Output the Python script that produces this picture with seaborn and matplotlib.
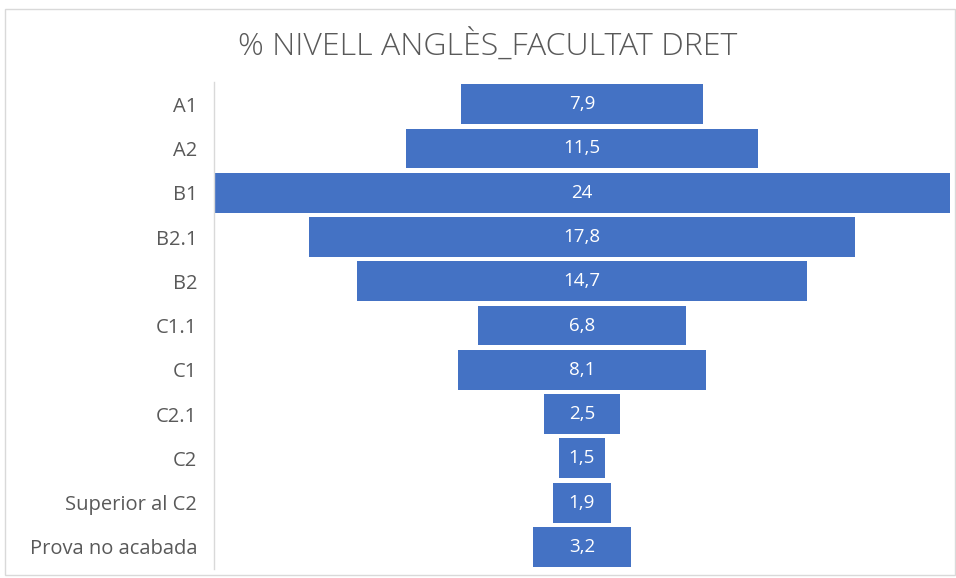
import pandas as pd
import matplotlib.pyplot as plt
import seaborn as sns
from matplotlib.patches import Rectangle

# Dades: % nivell d'anglès
nivells = ['A1', 'A2', 'B1', 'B2.1', 'B2', 'C1.1', 'C1', 'C2.1', 'C2',
           'Superior al C2', 'Prova no acabada']
percent = [7.9, 11.5, 24, 17.8, 14.7, 6.8, 8.1, 2.5, 1.5, 1.9, 3.2]

blau = '#4472C4'
gris = '#595959'

sns.set_theme(style='white')
plt.rcParams['font.family'] = ['Open Sans', 'DejaVu Sans']

df = pd.DataFrame({'nivell': nivells, 'pct': percent})
df['dreta'] = df['pct'] / 2
df['esquerra'] = -df['pct'] / 2

fig = plt.figure(figsize=(9.56, 5.78), dpi=100)
ax = fig.add_axes([0.2238, 0.0156, 0.7699, 0.8424])

# embut: dues meitats simètriques
sns.barplot(data=df, y='nivell', x='dreta', orient='h', color=blau,
            saturation=1, width=0.9, linewidth=0, ax=ax)
sns.barplot(data=df, y='nivell', x='esquerra', orient='h', color=blau,
            saturation=1, width=0.9, linewidth=0, ax=ax)

lim = max(percent) / 2
ax.set_xlim(-lim, lim)
ax.set_ylim(len(nivells) - 0.5, -0.5)

for i, v in enumerate(percent):
    txt = f'{v:g}'.replace('.', ',')
    ax.text(0, i, txt, ha='center', va='center', color='white', fontsize=13.5)

ax.set_xlabel('')
ax.set_ylabel('')
ax.set_xticks([])
ax.tick_params(axis='y', length=0, pad=12, labelsize=14.5, labelcolor=gris)
for s in ['top', 'right', 'bottom']:
    ax.spines[s].set_visible(False)
ax.spines['left'].set_color('#d9d9d9')
ax.spines['left'].set_linewidth(1)
ax.patch.set_alpha(0)

fig.text(0.51, 0.918, '% NIVELL ANGLÈS_FACULTAT DRET', ha='center', va='center',
         fontsize=23, color=gris, fontweight='light')

fig.patches.append(Rectangle((0.005, 0.005), 0.994, 0.979, transform=fig.transFigure,
                             fill=False, edgecolor='#d9d9d9', linewidth=1))

fig.savefig('out.png', dpi=100)
